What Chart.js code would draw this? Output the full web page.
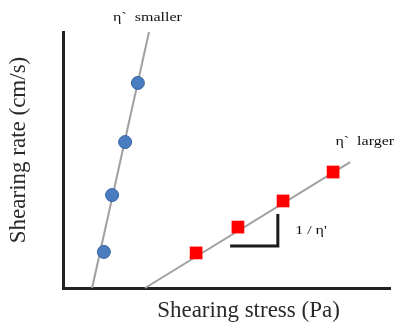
<!DOCTYPE html>
<html>
<head>
<meta charset="utf-8">
<script src="https://cdn.jsdelivr.net/npm/chart.js@4"></script>
<style>
  html, body { margin: 0; padding: 0; background: #fff; }
  #wrap { width: 400px; height: 323px; }
</style>
</head>
<body>
<div id="wrap"><canvas id="chart"></canvas></div>
<script>
// data in arbitrary units: x 0..10 (stress), y 0..10 (rate)
const smallerPoints = [[1.25, 1.41], [1.50, 3.63], [1.90, 5.70], [2.29, 8.01]];
const smallerLine   = [[0.89, 0], [2.63, 10]];
const largerPoints  = [[4.07, 1.37], [5.35, 2.38], [6.73, 3.40], [8.26, 4.53]];
const largerLine    = [[2.51, 0], [8.78, 4.92]];
const slopeMark     = [[5.11, 1.64], [6.57, 1.64], [6.57, 2.89]];

// in-chart labels [text, x, y]
const labels = [
  ['η`  smaller', 1.53, 10.55],
  ['η`  larger', 8.33, 5.7],
  ['1 / η\'', 7.1, 2.25]
];
const xTitle = 'Shearing stress (Pa)';
const yTitle = 'Shearing rate (cm/s)';

const pts = arr => arr.map(([x, y]) => ({ x, y }));

const textPlugin = {
  id: 'texts',
  afterDraw(chart) {
    const { ctx, scales: { x, y }, chartArea } = chart;
    ctx.save();
    ctx.fillStyle = '#111';
    ctx.textBaseline = 'middle';
    ctx.textAlign = 'left';
    labels.forEach(([t, dx, dy]) => {
      ctx.save();
      ctx.translate(x.getPixelForValue(dx), y.getPixelForValue(dy));
      ctx.scale(1, 0.74);
      ctx.font = '16px "Liberation Serif", serif';
      ctx.fillText(t, 0, 0);
      ctx.restore();
    });
    // axis titles
    ctx.font = '23px "Liberation Serif", serif';
    ctx.textAlign = 'center';
    ctx.fillStyle = '#2a2a2a';
    ctx.fillText(xTitle, (chartArea.left + chartArea.right) / 2 + 22, 311);
    ctx.save();
    ctx.translate(19, 150);
    ctx.rotate(-Math.PI / 2);
    ctx.fillText(yTitle, 0, 0);
    ctx.restore();
    ctx.restore();
  }
};

const lineStyle = { type: 'line', borderColor: '#a0a0a0', borderWidth: 2, pointRadius: 0, fill: false, order: 3, clip: false };

new Chart(document.getElementById('chart'), {
  type: 'scatter',
  data: {
    datasets: [
      { ...lineStyle, data: pts(smallerLine) },
      { ...lineStyle, data: pts(largerLine) },
      { type: 'line', data: pts(slopeMark), borderColor: '#1a1a1a', borderWidth: 3, pointRadius: 0, fill: false, order: 2, clip: false },
      { data: pts(smallerPoints), pointStyle: 'circle', pointRadius: 6.5, backgroundColor: '#4a7cc0', borderColor: '#3a64a0', borderWidth: 1, order: 1 },
      { data: pts(largerPoints), pointStyle: 'rect', pointRadius: 9, backgroundColor: '#ff0000', borderColor: '#ff0000', borderWidth: 0, order: 1 }
    ]
  },
  options: {
    responsive: true,
    maintainAspectRatio: false,
    animation: false,
    layout: { padding: { top: 32, right: 10, left: 0, bottom: 0 } },
    plugins: { legend: { display: false }, tooltip: { enabled: false } },
    scales: {
      x: {
        min: 0, max: 10,
        grid: { display: false },
        ticks: { display: false },
        border: { display: true, color: '#222', width: 3 },
        afterFit: s => { s.height = 35; }
      },
      y: {
        min: 0, max: 10,
        grid: { display: false },
        ticks: { display: false },
        border: { display: true, color: '#222', width: 3 },
        afterFit: s => { s.width = 63; }
      }
    }
  },
  plugins: [textPlugin]
});
</script>
</body>
</html>
